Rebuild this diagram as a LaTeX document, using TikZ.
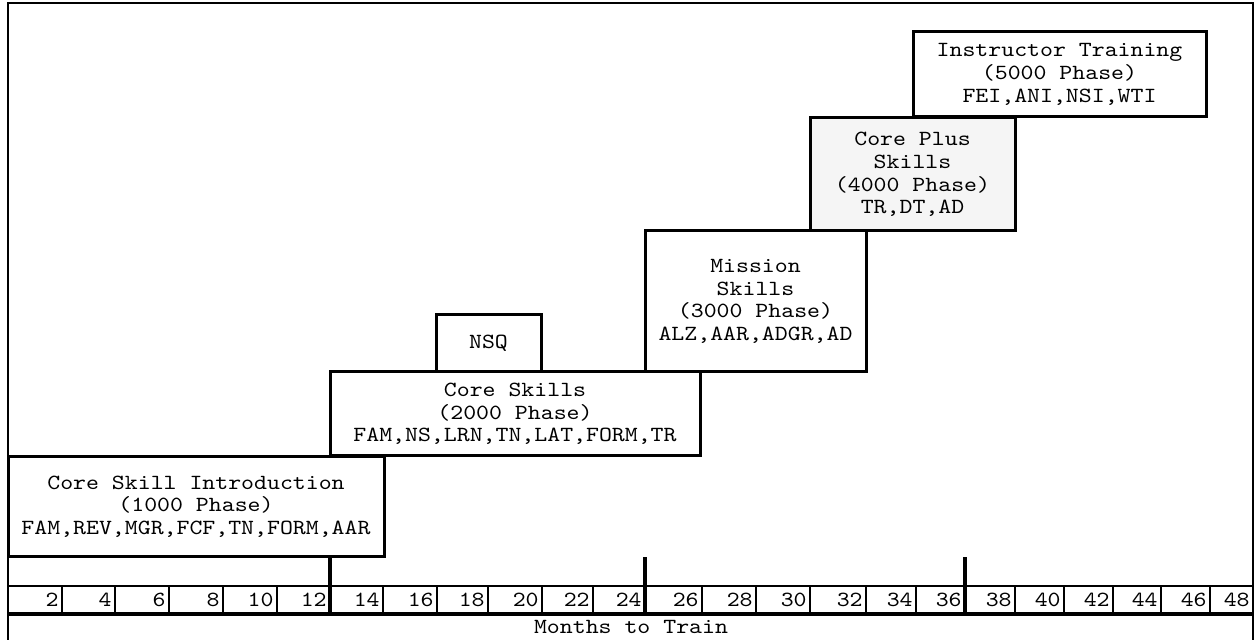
\documentclass[tikz,border=0pt]{standalone}
\usepackage{fontspec}
\setmonofont{Latin Modern Mono}[FakeStretch=1.14]
\begin{document}
\begin{tikzpicture}[x=0.5pt,y=-0.5pt,
  txt/.style={font=\ttfamily\fontsize{10.8}{11.3}\selectfont, align=center, inner sep=0pt},
  phase/.style={txt, draw=black, line width=1.5pt, fill=white},
  frame/.style={line width=1.2pt},
  thin/.style={line width=0.6pt},
  major/.style={line width=1.6pt},
  lab/.style={font=\ttfamily\fontsize{10.8}{11.3}\selectfont, anchor=east, inner sep=0pt}]
\useasboundingbox (0,0) rectangle (1257,640);
% outer frame
\draw[frame] (8,640) -- (8,3) -- (1253,3) -- (1253,640);
% axis band
\draw[line width=1.2pt] (8,586) -- (1253,586);
\draw[line width=1.7pt] (8,614) -- (1253,614);
\foreach \x/\m in {62/2,115/4,169/6,223/8,277/10,383/14,437/16,488/18,542/20,593/22,702/26,756/28,810/30,866/32,916/34,1015/38,1064/40,1113/42,1161/44,1210/46}{
  \draw[thin] (\x,586) -- (\x,614);
}
\draw[major] (330,556) -- (330,614);
\draw[major] (645,557) -- (645,614);
\draw[major] (965,557) -- (965,614);
\foreach \x/\m in {62/2,115/4,169/6,223/8,277/10,330/12,383/14,437/16,488/18,542/20,593/22,645/24,702/26,756/28,810/30,866/32,916/34,965/36,1015/38,1064/40,1113/42,1161/44,1210/46,1253/48}{
  \node[lab] (t\m) at (\x-3,600) {\m};
}
\node[txt] (months) at (631,627) {Months to Train};
% phase boxes
\node[phase, minimum width=188pt, minimum height=49.5pt] (p1000) at (196,506.5)
  {Core Skill Introduction\\(1000 Phase)\\FAM,REV,MGR,FCF,TN,FORM,AAR};
\node[phase, minimum width=52.5pt, minimum height=28.5pt] (nsq) at (488.5,343.5) {NSQ};
\node[phase, minimum width=185pt, minimum height=42pt] (p2000) at (515,414)
  {Core Skills\\(2000 Phase)\\FAM,NS,LRN,TN,LAT,FORM,TR};
\node[phase, minimum width=110.5pt, minimum height=70.5pt] (p3000) at (755.5,301.5)
  {Mission\\Skills\\(3000 Phase)\\ALZ,AAR,ADGR,AD};
\node[phase, fill=black!4, minimum width=102.5pt, minimum height=56.5pt] (p4000) at (912.5,174.5)
  {Core Plus\\Skills\\(4000 Phase)\\TR,DT,AD};
\node[phase, minimum width=146.5pt, minimum height=42.5pt] (p5000) at (1059.5,74.5)
  {Instructor Training\\(5000 Phase)\\FEI,ANI,NSI,WTI};
\end{tikzpicture}
\end{document}
